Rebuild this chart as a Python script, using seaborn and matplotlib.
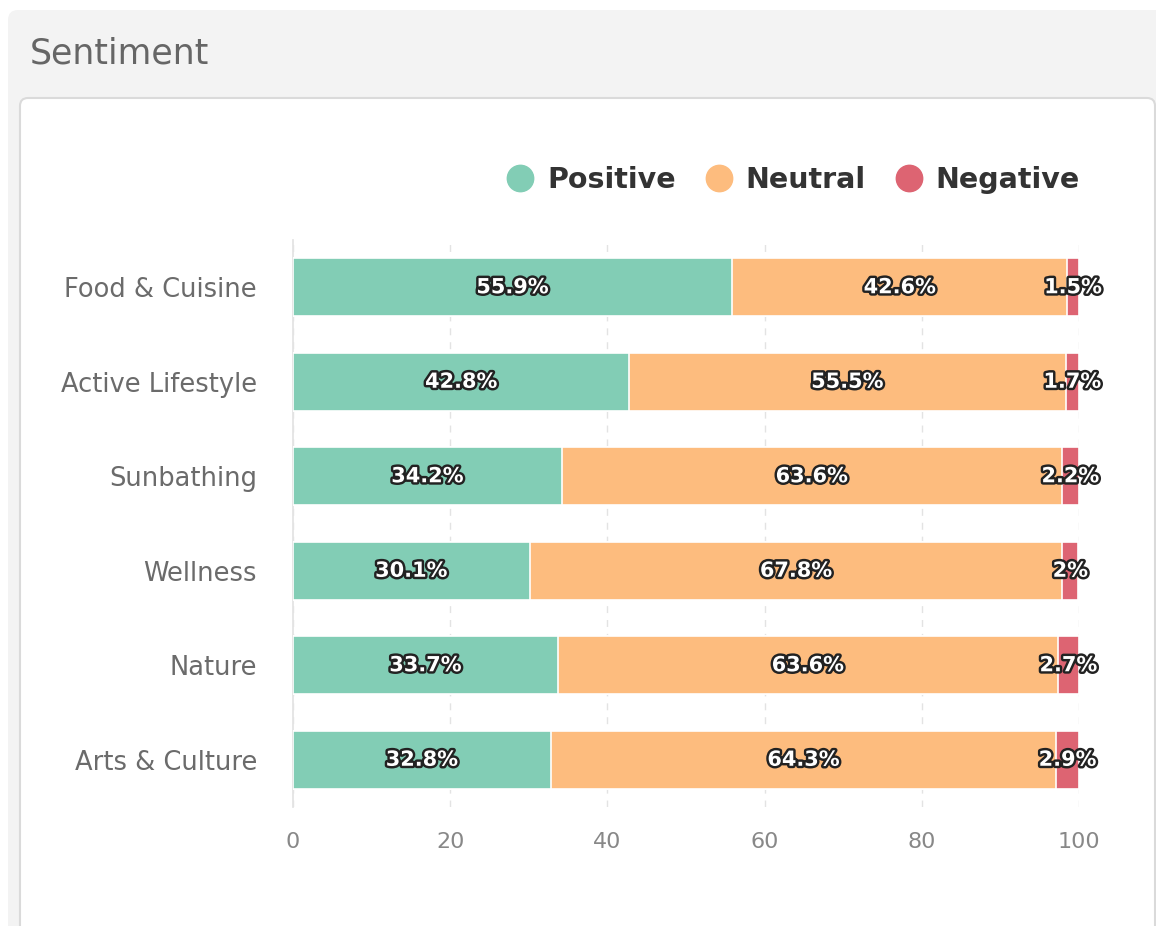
"""
Sentiment stacked bar chart
"""
import pandas as pd
import numpy as np
import matplotlib.pyplot as plt
import matplotlib.patches as mpatches
import matplotlib.patheffects as pe
from matplotlib.lines import Line2D
from matplotlib.transforms import IdentityTransform
import seaborn as sns

# data
categories = ['Food & Cuisine', 'Active Lifestyle', 'Sunbathing', 'Wellness', 'Nature', 'Arts & Culture']
positive = [55.9, 42.8, 34.2, 30.1, 33.7, 32.8]
neutral = [42.6, 55.5, 63.6, 67.8, 63.6, 64.3]
negative = [1.5, 1.7, 2.2, 2.0, 2.7, 2.9]
series_names = ['Positive', 'Neutral', 'Negative']
series_colors = ['#82cdb5', '#fdbc7e', '#dd6472']
x_ticks = [0, 20, 40, 60, 80, 100]

sns.set_theme(style='white')
plt.rcParams['font.family'] = ['DejaVu Sans']

df = pd.DataFrame({'category': categories, 'Positive': positive,
                   'Neutral': neutral, 'Negative': negative})
df['cum_pos'] = df['Positive']
df['cum_neu'] = df['Positive'] + df['Neutral']
df['cum_neg'] = df['cum_neu'] + df['Negative']

fig = plt.figure(figsize=(11.56, 9.26), dpi=100)
fig.patch.set_facecolor('white')

# background panel + card (pixel coords)
outer = mpatches.FancyBboxPatch((8, -60), 1250, 916 + 60, boxstyle='round,pad=0,rounding_size=10',
                                facecolor='#f3f3f3', edgecolor='none',
                                transform=IdentityTransform(), zorder=-20)
card = mpatches.FancyBboxPatch((20, -60), 1135, 828 + 60, boxstyle='round,pad=0,rounding_size=8',
                               facecolor='white', edgecolor='#dadada', linewidth=1.5,
                               transform=IdentityTransform(), zorder=-19)
fig.add_artist(outer)
fig.add_artist(card)

ax = fig.add_axes([293 / 1156, 1 - 807 / 926, (1079 - 293) / 1156, (807 - 240) / 926])
ax.set_facecolor('none')

bar_w = 0.613
# overlapping cumulative bars give the stacked look
for col, color in [('cum_neg', series_colors[2]), ('cum_neu', series_colors[1]), ('cum_pos', series_colors[0])]:
    sns.barplot(data=df, x=col, y='category', color=color, orient='h', width=bar_w,
                edgecolor='white', linewidth=1.2, saturation=1, ax=ax, zorder=3)

# value labels
for i, row in df.iterrows():
    starts = [0, row['cum_pos'], row['cum_neu']]
    for s, name in zip(starts, series_names):
        v = row[name]
        ax.text(s + v / 2, i, f'{v:g}%', ha='center', va='center', fontsize=15,
                fontweight='bold', color='white', zorder=5,
                path_effects=[pe.withStroke(linewidth=3.5, foreground='#222222')])

ax.set_xlim(0, 100)
ax.set_ylim(5.5, -0.5)
ax.set_xticks(x_ticks)
ax.set_xlabel('')
ax.set_ylabel('')
ax.xaxis.grid(True, linestyle=(0, (5, 5)), color='#e3e3e3', linewidth=1)
ax.set_axisbelow(True)
for s in ['top', 'right', 'bottom']:
    ax.spines[s].set_visible(False)
ax.spines['left'].set_color('#e3e3e3')
ax.tick_params(axis='y', length=0, pad=26, labelsize=18.5, labelcolor='#6b6b6b')
ax.tick_params(axis='x', length=6, color='#e3e3e3', pad=12, labelsize=16, labelcolor='#888888')

# legend
handles = [Line2D([], [], marker='o', linestyle='', markersize=19, color=c) for c in series_colors]
leg = fig.legend(handles, series_names, loc='center right', ncol=3,
                 bbox_to_anchor=(1080 / 1156, 1 - 180 / 926), frameon=False,
                 borderpad=0, borderaxespad=0, handletextpad=0.35, columnspacing=0.9,
                 handlelength=1.2, prop={'weight': 'bold', 'size': 20.5})
for t in leg.get_texts():
    t.set_color('#333333')

fig.text(30 / 1156, 1 - 53 / 926, 'Sentiment', va='center', ha='left', fontsize=25, color='#666666')

plt.savefig('out.png', dpi=100)
